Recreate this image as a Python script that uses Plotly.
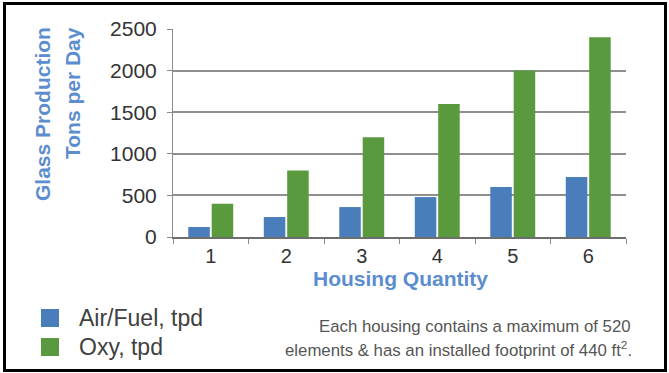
import plotly.graph_objects as go

# ---- data ----
housing_qty = ["1", "2", "3", "4", "5", "6"]
air_fuel_tpd = [120, 240, 360, 480, 600, 720]
oxy_tpd = [400, 800, 1200, 1600, 2000, 2400]
y_ticks = [0, 500, 1000, 1500, 2000, 2500]
series_names = ["Air/Fuel, tpd", "Oxy, tpd"]

W, H = 669, 373
L, R, T, B = 173, 43, 29, 136
PW, PH = W - L - R, H - T - B

def px(x):
    return (x - L) / PW

def py(y):
    return (H - B - y) / PH

FONT = "Liberation Sans, Arial, sans-serif"
BLUE = "#4a7ebb"
GREEN = "#5a9a3e"
TITLE_BLUE = "#5b8dcf"

fig = go.Figure()
fig.add_trace(go.Bar(x=housing_qty, y=air_fuel_tpd, name=series_names[0],
                     marker=dict(color=BLUE, line=dict(width=0))))
fig.add_trace(go.Bar(x=housing_qty, y=oxy_tpd, name=series_names[1],
                     marker=dict(color=GREEN, line=dict(width=0))))

fig.update_layout(
    width=W, height=H,
    margin=dict(l=L, r=R, t=T, b=B, pad=0),
    paper_bgcolor="white", plot_bgcolor="white",
    barmode="group", bargap=0.38, bargroupgap=0.08,
    showlegend=False,
    font=dict(family=FONT, color="#333333"),
)
fig.update_xaxes(
    type="category", range=[-0.5, 5.5],
    showline=True, linecolor="#6e6e6e", linewidth=2,
    ticks="outside", tickson="boundaries", ticklen=5, tickcolor="#8a8a8a", tickwidth=1,
    tickfont=dict(size=20, color="#333333", family=FONT),
    showgrid=False, zeroline=False,
)
fig.update_yaxes(
    range=[0, 2500], tickvals=y_ticks,
    showline=True, linecolor="#8a8a8a", linewidth=1,
    ticks="outside", ticklen=5, tickcolor="#8a8a8a",
    ticklabelstandoff=6,
    tickfont=dict(size=21, color="#333333", family=FONT),
    showgrid=True, gridcolor="#8f8f8f", gridwidth=1.5,
    zeroline=False,
)

ann = []
# y-axis titles (two rotated lines, top-aligned)
ann.append(dict(text="<b>Glass Production</b>", x=px(42), y=py(25), xref="paper", yref="paper",
                textangle=-90, xanchor="center", yanchor="top", showarrow=False,
                font=dict(size=21, color=TITLE_BLUE, family=FONT)))
ann.append(dict(text="<b>Tons per Day</b>", x=px(72), y=py(25), xref="paper", yref="paper",
                textangle=-90, xanchor="center", yanchor="top", showarrow=False,
                font=dict(size=21, color=TITLE_BLUE, family=FONT)))
# x-axis title
ann.append(dict(text="<b>Housing Quantity</b>", x=px(400), y=py(278), xref="paper", yref="paper",
                xanchor="center", yanchor="middle", showarrow=False,
                font=dict(size=21, color=TITLE_BLUE, family=FONT)))
# legend
legend_rows = [(series_names[0], BLUE, 318), (series_names[1], GREEN, 347)]
shapes = []
for name, col, yc in legend_rows:
    shapes.append(dict(type="rect", xref="paper", yref="paper",
                       x0=px(41), x1=px(59), y0=py(yc - 9), y1=py(yc + 9),
                       fillcolor=col, line=dict(width=0)))
    ann.append(dict(text=name, x=px(77), y=py(yc), xref="paper", yref="paper",
                    xanchor="left", yanchor="middle", showarrow=False,
                    font=dict(size=23, color="#404040", family=FONT)))
# note
ann.append(dict(text="Each housing contains a maximum of 520", x=px(633), y=py(326),
                xref="paper", yref="paper", xanchor="right", yanchor="middle", showarrow=False,
                font=dict(size=16.8, color="#555555", family=FONT)))
ann.append(dict(text="elements &amp; has an installed footprint of 440 ft<sup>2</sup>.", x=px(634), y=py(349),
                xref="paper", yref="paper", xanchor="right", yanchor="middle", showarrow=False,
                font=dict(size=16.8, color="#555555", family=FONT)))
# frame
shapes.append(dict(type="rect", xref="paper", yref="paper",
                   x0=px(4.5), x1=px(665.5), y0=py(3.5), y1=py(370.5),
                   line=dict(color="black", width=3), fillcolor="rgba(0,0,0,0)", layer="above"))

fig.update_layout(annotations=ann, shapes=shapes)
fig.write_html("out.html")
